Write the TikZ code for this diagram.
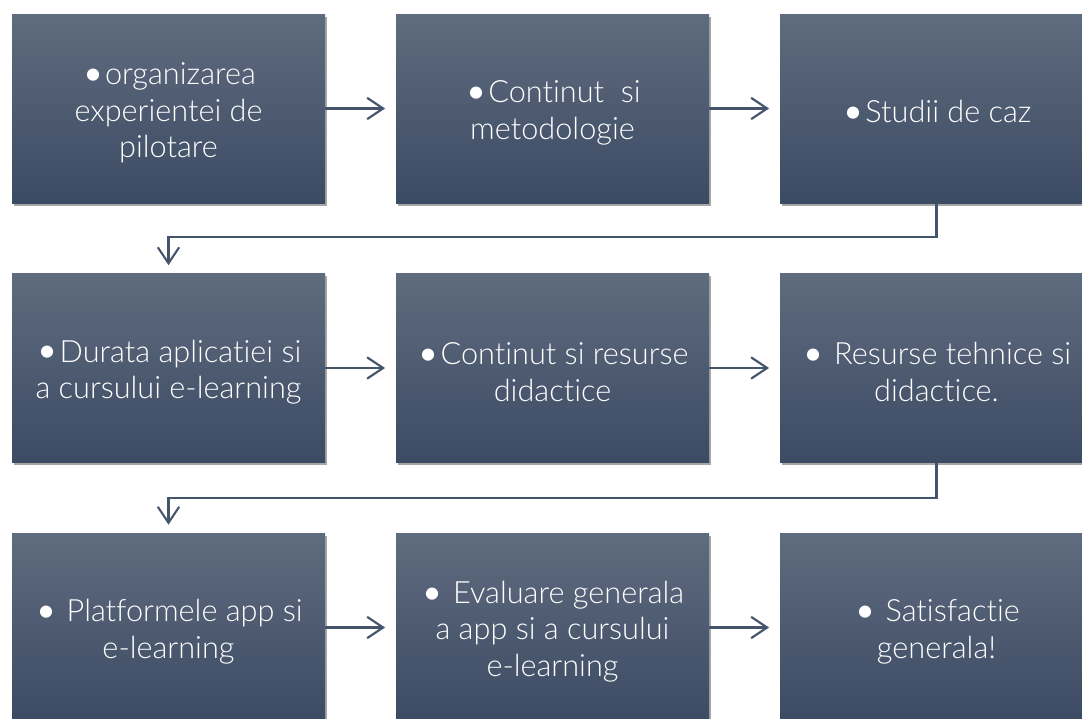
\documentclass[tikz,border=0pt]{standalone}
\usepackage{fontspec}
\setmainfont{Lato}[UprightFont=* Light, Ligatures={NoCommon}]
\usetikzlibrary{arrows.meta,shadows}
\definecolor{topc}{HTML}{5F6B7E}
\definecolor{botc}{HTML}{3C4B64}
\definecolor{linec}{HTML}{44546A}
\newcommand\bul{\rule{0pt}{23pt}\raisebox{-0.09em}{\scalebox{1.35}{•}}}
\tikzset{
  box/.style={minimum width=234.75pt, minimum height=141.75pt, inner sep=0pt,
    top color=topc, bottom color=botc, draw=none, text=white, align=center,
    font=\fontsize{23}{27.5}\selectfont,
    drop shadow={shadow xshift=1.5pt, shadow yshift=-2pt, opacity=0.35, fill=black}},
  conn/.style={draw=linec, line width=1.8pt, -{Straight Barb[length=12pt,width=16pt,line width=1.6pt]}}
}
\begin{document}
\begin{tikzpicture}[x=0.75pt,y=-0.75pt]
\useasboundingbox (0,0) rectangle (1082,718);
\fill[white] (0,0) rectangle (1082,718);
\node[box] (a1) at (168.5,108.5) {\bul organizarea\\experientei de\\pilotare};
\node[box] (a2) at (552.5,108.5) {\bul Continut\ \ si\\metodologie};
\node[box] (a3) at (936.5,108.5) {\bul Studii de caz};
\node[box] (b1) at (168.5,368) {\bul Durata aplicatiei si\\a cursului e-learning};
\node[box] (b2) at (552.5,368) {\bul Continut si resurse\\didactice};
\node[box] (b3) at (936.5,368) {\bul\ Resurse tehnice si\\didactice.};
\node[box] (c1) at (168.5,627.5) {\bul\ Platformele app si\\e-learning};
\node[box] (c2) at (552.5,627.5) {\bul\ Evaluare generala\\a app si a cursului\\e-learning};
\node[box] (c3) at (936.5,627.5) {\bul\ Satisfactie\\generala!};
\draw[conn, shorten >=8pt] (a1.east) -- (a2.west);
\draw[conn, shorten >=8pt] (a2.east) -- (a3.west);
\draw[conn, shorten >=8pt] (b1.east) -- (b2.west);
\draw[conn, shorten >=8pt] (b2.east) -- (b3.west);
\draw[conn, shorten >=8pt] (c1.east) -- (c2.west);
\draw[conn, shorten >=8pt] (c2.east) -- (c3.west);
\draw[conn, shorten >=6pt] (a3.south) -- ++(0,34) -| (b1.north);
\draw[conn, shorten >=6pt] (b3.south) -- ++(0,35) -| (c1.north);
\end{tikzpicture}
\end{document}
